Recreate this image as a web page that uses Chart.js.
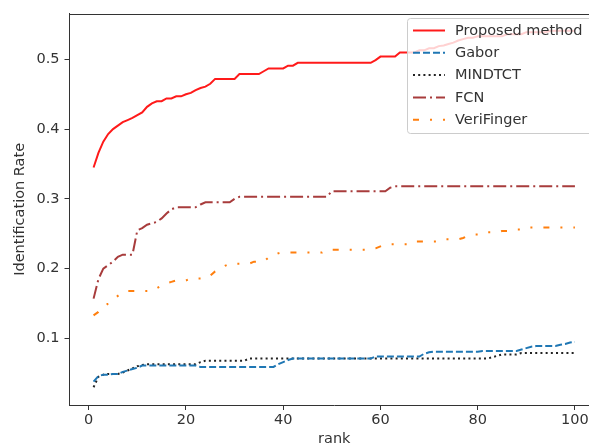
<!DOCTYPE html>
<html>
<head>
<meta charset="utf-8">
<script src="https://cdn.jsdelivr.net/npm/chart.js@4/dist/chart.umd.min.js"></script>
<style>
html, body { margin: 0; padding: 0; background: #fff; overflow: hidden; }
#wrap { width: 589px; height: 448px; overflow: hidden; position: relative; }
canvas { display: block; }
</style>
</head>
<body>
<div id="wrap"><canvas id="chart" width="610" height="448"></canvas></div>
<script>
var seriesNames = ["Proposed method", "Gabor", "MINDTCT", "FCN", "VeriFinger"];

var proposed = [
    0.345,0.366,0.382,0.393,0.400,0.405,0.410,0.413,0.416,0.420,
    0.424,0.432,0.437,0.440,0.440,0.444,0.444,0.447,0.447,0.450,
    0.452,0.456,0.459,0.461,0.465,0.472,0.472,0.472,0.472,0.472,
    0.479,0.479,0.479,0.479,0.479,0.483,0.487,0.487,0.487,0.487,
    0.491,0.491,0.495,0.495,0.495,0.495,0.495,0.495,0.495,0.495,
    0.495,0.495,0.495,0.495,0.495,0.495,0.495,0.495,0.499,0.504,
    0.504,0.504,0.504,0.510,0.510,0.510,0.510,0.513,0.513,0.516,
    0.516,0.519,0.520,0.522,0.524,0.527,0.529,0.531,0.531,0.533,
    0.533,0.533,0.533,0.533,0.533,0.536,0.536,0.536,0.536,0.539,
    0.539,0.539,0.539,0.539,0.541,0.541,0.541,0.541,0.541,0.541
];

var gabor = [
    0.038,0.046,0.048,0.048,0.049,0.049,0.052,0.054,0.056,0.058,
    0.061,0.061,0.061,0.061,0.061,0.061,0.061,0.061,0.061,0.061,
    0.061,0.061,0.059,0.059,0.059,0.059,0.059,0.059,0.059,0.059,
    0.059,0.059,0.059,0.059,0.059,0.059,0.059,0.059,0.063,0.066,
    0.069,0.071,0.071,0.071,0.071,0.071,0.071,0.071,0.071,0.071,
    0.071,0.071,0.071,0.071,0.071,0.071,0.071,0.071,0.074,0.074,
    0.074,0.074,0.074,0.074,0.074,0.074,0.074,0.074,0.078,0.080,
    0.081,0.081,0.081,0.081,0.081,0.081,0.081,0.081,0.081,0.081,
    0.082,0.082,0.082,0.082,0.082,0.082,0.082,0.082,0.084,0.086,
    0.088,0.089,0.089,0.089,0.089,0.089,0.091,0.092,0.094,0.095
];

var mindtct = [
    0.030,0.045,0.048,0.049,0.049,0.049,0.051,0.054,0.057,0.060,
    0.062,0.063,0.063,0.063,0.063,0.063,0.063,0.063,0.063,0.063,
    0.063,0.063,0.066,0.068,0.068,0.068,0.068,0.068,0.068,0.068,
    0.068,0.068,0.071,0.071,0.071,0.071,0.071,0.071,0.071,0.071,
    0.071,0.071,0.071,0.071,0.071,0.071,0.071,0.071,0.071,0.071,
    0.071,0.071,0.071,0.071,0.071,0.071,0.071,0.071,0.071,0.071,
    0.071,0.071,0.071,0.071,0.071,0.071,0.071,0.071,0.071,0.071,
    0.071,0.071,0.071,0.071,0.071,0.071,0.071,0.071,0.071,0.071,
    0.071,0.071,0.073,0.075,0.077,0.077,0.077,0.077,0.079,0.079,
    0.079,0.079,0.079,0.079,0.079,0.079,0.079,0.079,0.079,0.079
];

var fcn = [
    0.157,0.185,0.200,0.205,0.210,0.217,0.220,0.220,0.220,0.255,
    0.258,0.263,0.265,0.267,0.272,0.279,0.285,0.288,0.288,0.288,
    0.288,0.288,0.292,0.295,0.295,0.295,0.295,0.295,0.295,0.300,
    0.303,0.303,0.303,0.303,0.303,0.303,0.303,0.303,0.303,0.303,
    0.303,0.303,0.303,0.303,0.303,0.303,0.303,0.303,0.303,0.311,
    0.311,0.311,0.311,0.311,0.311,0.311,0.311,0.311,0.311,0.311,
    0.311,0.316,0.318,0.318,0.318,0.318,0.318,0.318,0.318,0.318,
    0.318,0.318,0.318,0.318,0.318,0.318,0.318,0.318,0.318,0.318,
    0.318,0.318,0.318,0.318,0.318,0.318,0.318,0.318,0.318,0.318,
    0.318,0.318,0.318,0.318,0.318,0.318,0.318,0.318,0.318,0.318
];

var verifinger = [
    0.133,0.138,0.145,0.150,0.156,0.161,0.166,0.168,0.168,0.168,
    0.168,0.168,0.168,0.172,0.176,0.179,0.181,0.183,0.183,0.183,
    0.186,0.186,0.186,0.186,0.190,0.196,0.200,0.204,0.207,0.207,
    0.207,0.207,0.207,0.210,0.210,0.210,0.216,0.219,0.222,0.223,
    0.223,0.223,0.223,0.223,0.223,0.223,0.223,0.223,0.227,0.227,
    0.227,0.227,0.227,0.227,0.227,0.227,0.227,0.227,0.229,0.232,
    0.235,0.235,0.235,0.235,0.235,0.235,0.239,0.239,0.239,0.239,
    0.239,0.239,0.242,0.242,0.242,0.242,0.244,0.247,0.249,0.249,
    0.249,0.252,0.252,0.252,0.254,0.254,0.254,0.256,0.256,0.259,
    0.259,0.259,0.259,0.259,0.259,0.259,0.259,0.259,0.259,0.259
];

var xTicks = [0, 20, 40, 60, 80, 100];
var yTicks = [0.1, 0.2, 0.3, 0.4, 0.5];

var ranks = [];
for (var i = 1; i <= proposed.length; i++) ranks.push(i);

function points(values) {
    var out = [];
    for (var i in values) out.push({x: ranks[i], y: values[i]});
    return out;
}

var FONT = "'DejaVu Sans', sans-serif";
var FSIZE = 14.5;
var TEXT = "#333333";

var styles = [
    {color: "#ff1a1a", dash: []},
    {color: "#1f77b4", dash: [7, 3]},
    {color: "#222222", dash: [2, 3.2]},
    {color: "#a83c3c", dash: [13, 4, 2, 4]},
    {color: "#ff7f0e", dash: [6, 11, 2, 11, 2, 11]}
];
var series = [proposed, gabor, mindtct, fcn, verifinger];

var datasets = [];
for (var s = 0; s < series.length; s++) {
    datasets.push({
        label: seriesNames[s],
        data: points(series[s]),
        borderColor: styles[s].color,
        borderDash: styles[s].dash,
        borderWidth: 2,
        borderCapStyle: "butt",
        pointRadius: 0,
        tension: 0,
        fill: false
    });
}

// top spine and a matplotlib-like legend in the upper right;
// the right spine sits past the edge of the picture
var framePlugin = {
    id: "frame",
    afterDatasetsDraw: function(chart) {
        var ctx = chart.ctx;
        var a = chart.chartArea;
        ctx.save();
        ctx.strokeStyle = TEXT;
        ctx.lineWidth = 1;
        ctx.beginPath();
        ctx.moveTo(Math.round(a.left) - 1, Math.round(a.top) + 0.5);
        ctx.lineTo(a.right, Math.round(a.top) + 0.5);
        ctx.stroke();

        var bx = 407.5, by = 18.5, bw = 200, bh = 115;
        ctx.beginPath();
        ctx.roundRect(bx, by, bw, bh, 3);
        ctx.fillStyle = "rgba(255,255,255,0.8)";
        ctx.fill();
        ctx.strokeStyle = "#cccccc";
        ctx.stroke();

        ctx.font = FSIZE + "px " + FONT;
        ctx.textBaseline = "middle";
        ctx.fillStyle = TEXT;
        for (var i = 0; i < chart.data.datasets.length; i++) {
            var ds = chart.data.datasets[i];
            var y = 30.5 + i * 22.3;
            ctx.beginPath();
            ctx.setLineDash(ds.borderDash);
            ctx.strokeStyle = ds.borderColor;
            ctx.lineWidth = 2;
            ctx.moveTo(413, y);
            ctx.lineTo(445, y);
            ctx.stroke();
            ctx.setLineDash([]);
            ctx.fillText(ds.label, 455, y + 0.5);
        }
        ctx.restore();
    }
};

var chart = new Chart(document.getElementById("chart"), {
    type: "line",
    data: {datasets: datasets},
    plugins: [framePlugin],
    options: {
        responsive: false,
        animation: false,
        devicePixelRatio: 1,
        layout: {padding: {top: 12, right: 11, left: 0, bottom: 0}},
        plugins: {legend: {display: false}, tooltip: {enabled: false}},
        scales: {
            x: {
                type: "linear",
                min: -3.95,
                max: 104.95,
                afterFit: function(scale) { scale.height = 43; },
                afterBuildTicks: function(scale) {
                    scale.ticks = xTicks.map(function(v) { return {value: v}; });
                },
                grid: {drawOnChartArea: false, drawTicks: true, tickLength: 5, color: TEXT},
                border: {display: true, color: TEXT, width: 1},
                ticks: {
                    autoSkip: false, maxRotation: 0, padding: 2,
                    color: TEXT, font: {family: FONT, size: FSIZE}
                },
                title: {
                    display: true, text: "rank", color: TEXT,
                    font: {family: FONT, size: FSIZE}, padding: {top: 0, bottom: 0}
                }
            },
            y: {
                type: "linear",
                min: 0.0045,
                max: 0.5655,
                afterFit: function(scale) { scale.width = 69.5; },
                afterBuildTicks: function(scale) {
                    scale.ticks = yTicks.map(function(v) { return {value: v}; });
                },
                grid: {drawOnChartArea: false, drawTicks: true, tickLength: 5, color: TEXT},
                border: {display: true, color: TEXT, width: 1},
                ticks: {
                    padding: 5, color: TEXT, font: {family: FONT, size: FSIZE},
                    callback: function(v) { return v.toFixed(1); }
                },
                title: {
                    display: true, text: "Identification Rate", color: TEXT,
                    font: {family: FONT, size: FSIZE}, padding: {top: 12, bottom: 0}
                }
            }
        }
    }
});
</script>
</body>
</html>
